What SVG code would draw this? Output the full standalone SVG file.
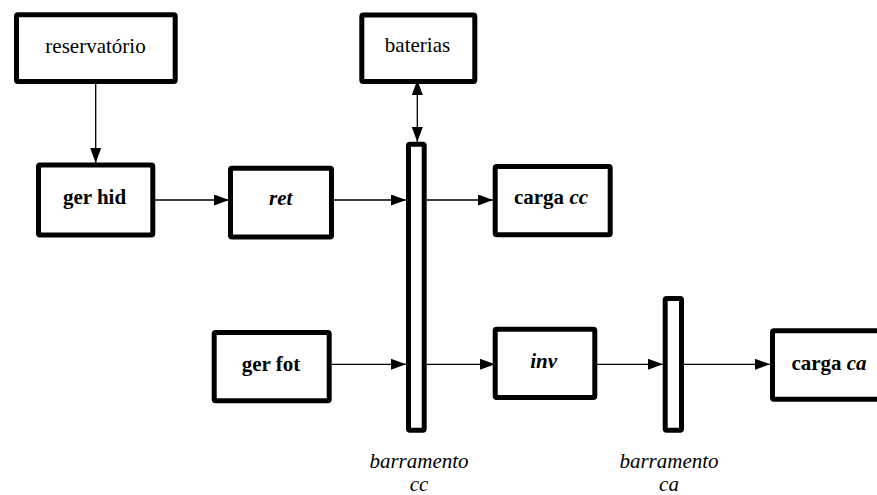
<svg xmlns="http://www.w3.org/2000/svg" width="877" height="495" viewBox="0 0 877 495">
  <style>
    .box { fill: #ffffff; stroke: #000000; stroke-width: 5; stroke-linejoin: round; }
    .bus { fill: #ffffff; stroke: #000000; stroke-width: 5; stroke-linejoin: round; }
    .wire { fill: none; stroke: #000000; stroke-width: 1.3; marker-end: url(#head); }
    text { font-family: "Liberation Serif", "Times New Roman", serif; font-size: 21px; fill: #000000; text-anchor: middle; }
    .b { font-weight: bold; }
    .i { font-style: italic; }
  </style>
  <defs>
    <marker id="head" markerUnits="userSpaceOnUse" markerWidth="16" markerHeight="12" refX="15" refY="5.5" orient="auto-start-reverse">
      <path d="M0,0 L15,5.5 L0,11 Z" fill="#000000"/>
    </marker>
  </defs>

  <rect width="877" height="495" fill="#ffffff"/>

  <!-- connectors -->
  <g id="connectors">
    <line class="wire" x1="95.7" y1="84" x2="95.7" y2="163"/>
    <line class="wire" x1="155" y1="200" x2="229" y2="200"/>
    <line class="wire" x1="333" y1="200" x2="406" y2="200"/>
    <line class="wire" x1="427" y1="200" x2="493" y2="200"/>
    <line class="wire" x1="417.3" y1="80" x2="417.3" y2="142" marker-start="url(#head)"/>
    <line class="wire" x1="332" y1="364.3" x2="406" y2="364.3"/>
    <line class="wire" x1="427" y1="364.3" x2="495" y2="364.3"/>
    <line class="wire" x1="597" y1="364.3" x2="663" y2="364.3"/>
    <line class="wire" x1="684" y1="364.3" x2="770" y2="364.3"/>
  </g>

  <!-- nodes -->
  <g id="reservatorio">
    <rect class="box" x="16.5" y="14.8" width="158.7" height="66.7" rx="1.5"/>
    <text x="95.5" y="52.5">reservatório</text>
  </g>
  <g id="baterias">
    <rect class="box" x="361.8" y="15" width="113" height="66.5" rx="1.5"/>
    <text x="417.5" y="52">baterias</text>
  </g>
  <g id="ger-hid">
    <rect class="box" x="38.5" y="165" width="114.3" height="70" rx="1.5"/>
    <text class="b" x="94.5" y="204">ger hid</text>
  </g>
  <g id="ret">
    <rect class="box" x="230.5" y="168.3" width="101" height="68.7" rx="1.5"/>
    <text class="b i" x="280.7" y="205">ret</text>
  </g>
  <g id="barramento-cc">
    <rect class="bus" x="408.5" y="144.2" width="15.7" height="286" rx="1.5"/>
    <text class="i" x="419" y="468">barramento</text>
    <text class="i" x="419" y="491">cc</text>
  </g>
  <g id="carga-cc">
    <rect class="box" x="495.2" y="166.5" width="115" height="68.3" rx="1.5"/>
    <text class="b" x="551" y="204">carga <tspan class="i">cc</tspan></text>
  </g>
  <g id="ger-fot">
    <rect class="box" x="214.2" y="332.5" width="115" height="68.3" rx="1.5"/>
    <text class="b" x="271" y="370.5">ger fot</text>
  </g>
  <g id="inv">
    <rect class="box" x="495.2" y="329.2" width="99.6" height="68.3" rx="1.5"/>
    <text class="b i" x="543.7" y="368">inv</text>
  </g>
  <g id="barramento-ca">
    <rect class="bus" x="665.2" y="298.5" width="16.3" height="131.7" rx="1.5"/>
    <text class="i" x="669" y="468">barramento</text>
    <text class="i" x="669" y="491">ca</text>
  </g>
  <g id="carga-ca">
    <rect class="box" x="772.5" y="330.8" width="115" height="68.4" rx="1.5"/>
    <text class="b" x="829" y="370">carga <tspan class="i">ca</tspan></text>
  </g>
</svg>
